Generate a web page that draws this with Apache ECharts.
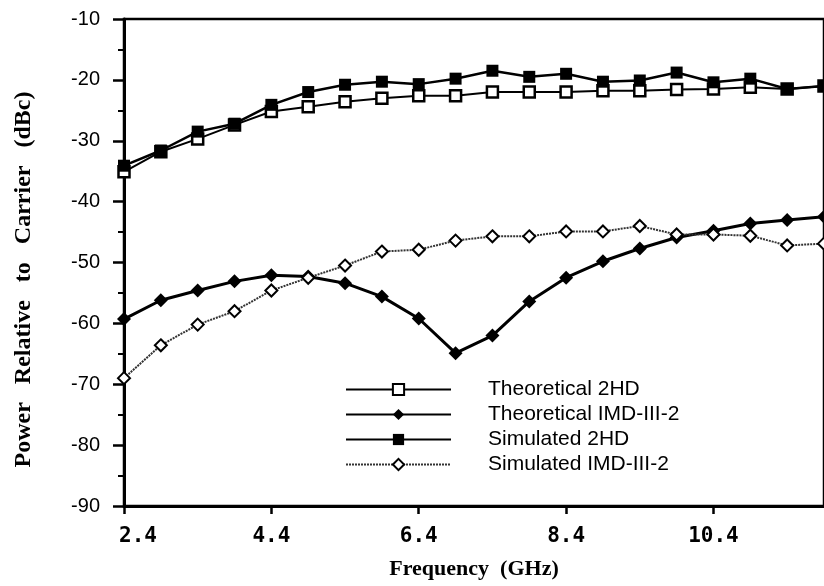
<!DOCTYPE html>
<html>
<head>
<meta charset="utf-8">
<script src="https://cdn.jsdelivr.net/npm/echarts@6/dist/echarts.min.js"></script>
<style>
  html, body { margin: 0; padding: 0; background: #fff; }
  #chart { width: 824px; height: 586px; }
</style>
</head>
<body>
<div id="chart"></div>
<script>
// frequency points (GHz)
const freq = [2.4, 2.9, 3.4, 3.9, 4.4, 4.9, 5.4, 5.9, 6.4, 6.9, 7.4, 7.9, 8.4, 8.9, 9.4, 9.9, 10.4, 10.9, 11.4, 11.9]

// power relative to carrier (dBc)
const theo2HD = [-35.1, -31.8, -29.7, -27.4, -25.2, -24.4, -23.6, -23.0, -22.6, -22.6, -22.0, -22.0, -22.0, -21.8, -21.8, -21.6, -21.5, -21.2, -21.5, -21.0]
const theoIMD = [-59.3, -56.2, -54.6, -53.1, -52.1, -52.3, -53.4, -55.6, -59.2, -64.9, -62.0, -56.4, -52.5, -49.8, -47.7, -45.9, -44.8, -43.6, -43.0, -42.5]
const sim2HD = [-34.1, -31.6, -28.5, -27.2, -24.1, -22.0, -20.8, -20.3, -20.7, -19.8, -18.5, -19.5, -19.0, -20.3, -20.1, -18.8, -20.4, -19.8, -21.5, -21.0]
const simIMD = [-69.0, -63.6, -60.2, -58.0, -54.6, -52.5, -50.5, -48.2, -47.9, -46.4, -45.7, -45.7, -44.9, -44.9, -44.0, -45.4, -45.4, -45.6, -47.2, -46.9]

const seriesNames = ['Theoretical 2HD', 'Theoretical IMD-III-2', 'Simulated 2HD', 'Simulated IMD-III-2']

const pairs = (ys) => freq.map((f, i) => [f, ys[i]])

const chart = echarts.init(document.getElementById('chart'))

const option = {
  backgroundColor: '#fff',
  animation: false,
  grid: {
    left: 124,
    right: -4,
    top: 19,
    bottom: 80,
    show: true,
    borderColor: '#000',
    borderWidth: 2.5
  },
  legend: {
    data: seriesNames,
    orient: 'vertical',
    left: 340,
    top: 374,
    itemWidth: 105,
    itemHeight: 14,
    itemGap: 4,
    textStyle: {
      fontFamily: 'Liberation Sans',
      fontSize: 21,
      color: '#000',
      padding: [0, 0, 0, 32]
    }
  },
  xAxis: {
    type: 'value',
    min: 2.4,
    max: 11.9,
    interval: 2,
    name: 'Frequency  (GHz)',
    nameLocation: 'middle',
    nameGap: 52,
    nameTextStyle: {
      fontFamily: 'Liberation Serif',
      fontWeight: 'bold',
      fontSize: 22,
      color: '#000'
    },
    axisLine: { lineStyle: { color: '#000', width: 3 } },
    axisTick: { length: 8, lineStyle: { color: '#000', width: 2.5 } },
    axisLabel: {
      margin: 20,
      showMaxLabel: false,
      fontFamily: 'DejaVu Sans Mono',
      fontWeight: 'bold',
      fontSize: 21,
      color: '#000',
      formatter: (v) => (Math.abs(v - 2.4) < 1e-6 ? '{first|' + v.toFixed(1) + '}' : v.toFixed(1)),
      rich: {
        first: {
          fontFamily: 'DejaVu Sans Mono',
          fontWeight: 'bold',
          fontSize: 21,
          color: '#000',
          padding: [0, 0, 0, 28]
        }
      }
    },
    splitLine: { show: false }
  },
  yAxis: {
    type: 'value',
    min: -90,
    max: -10,
    interval: 10,
    name: 'Power   Relative   to   Carrier   (dBc)',
    nameLocation: 'middle',
    nameGap: 88,
    nameTextStyle: {
      fontFamily: 'Liberation Serif',
      fontWeight: 'bold',
      fontSize: 24,
      color: '#000',
      padding: [0, 34, 0, 0]
    },
    axisLine: { lineStyle: { color: '#000', width: 3 } },
    axisTick: { length: 11, lineStyle: { color: '#000', width: 2.5 } },
    minorTick: { show: true, splitNumber: 2, length: 6, lineStyle: { color: '#000', width: 2 } },
    axisLabel: {
      margin: 24,
      fontFamily: 'Liberation Sans',
      fontSize: 20,
      color: '#000'
    },
    splitLine: { show: false }
  },
  series: [
    {
      name: seriesNames[0],
      type: 'line',
      data: pairs(theo2HD),
      symbol: 'rect',
      symbolSize: 11,
      lineStyle: { color: '#000', width: 2 },
      itemStyle: { color: '#fff', borderColor: '#000', borderWidth: 2.5 }
    },
    {
      name: seriesNames[1],
      type: 'line',
      data: pairs(theoIMD),
      symbol: 'diamond',
      symbolSize: 14,
      lineStyle: { color: '#000', width: 3 },
      itemStyle: { color: '#000' }
    },
    {
      name: seriesNames[2],
      type: 'line',
      data: pairs(sim2HD),
      symbol: 'rect',
      symbolSize: 12,
      lineStyle: { color: '#000', width: 2.5 },
      itemStyle: { color: '#000' }
    },
    {
      name: seriesNames[3],
      type: 'line',
      data: pairs(simIMD),
      symbol: 'diamond',
      symbolSize: 12,
      lineStyle: { color: '#333', width: 2, type: [2, 1] },
      itemStyle: { color: '#fff', borderColor: '#000', borderWidth: 2 }
    }
  ]
}

chart.setOption(option)
</script>
</body>
</html>
